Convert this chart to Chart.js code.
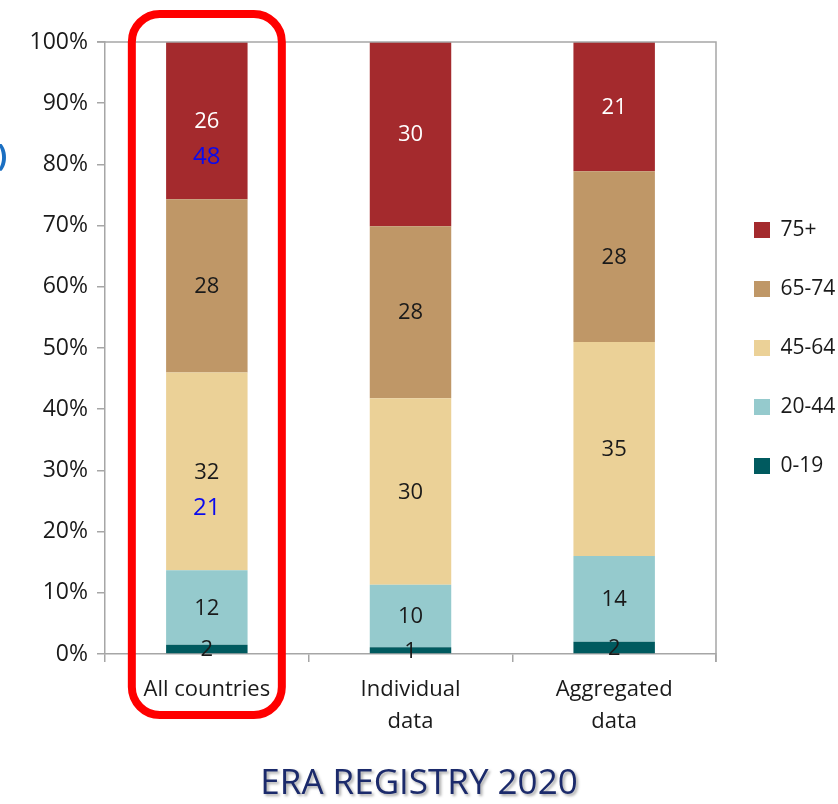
<!DOCTYPE html>
<html>
<head>
<meta charset="utf-8">
<script src="https://cdn.jsdelivr.net/npm/chart.js@4.4.1/dist/chart.umd.min.js"></script>
<style>
  html, body { margin: 0; padding: 0; background: #ffffff; }
  #wrap { position: relative; width: 838px; height: 804px; overflow: hidden; }
  #c { position: absolute; left: 0; top: 0; }
  #title { position: absolute; left: 0; width: 838px; top: 757px; text-align: center;
           font-family: "Open Sans", sans-serif; font-size: 35px; color: #1b2a6b;
           text-shadow: 2px 2px 3px rgba(0,0,0,0.35); line-height: 48px; }
  #paren { position: absolute; left: -3px; top: 134px; font-family: "Open Sans", sans-serif;
           font-size: 30px; font-weight: bold; color: #1b6fc2; z-index: 2; }
</style>
</head>
<body>
<div id="wrap">
  <canvas id="c" width="838" height="804"></canvas>
  <div id="paren">)</div>
  <div id="title">ERA REGISTRY 2020</div>
</div>
<script>
// ---- data ----
const categories = [["All countries"], ["Individual", "data"], ["Aggregated", "data"]];
const seriesNames = ["0-19", "20-44", "45-64", "65-74", "75+"];
const age0_19  = [1.5, 1.1, 2.0];
const age20_44 = [12.2, 10.2, 14.0];
const age45_64 = [32.3, 30.5, 35.0];
const age65_74 = [28.3, 28.1, 27.9];
const age75p   = [25.7, 30.1, 21.1];
const shownLabels = [
  ["2", "1", "2"],
  ["12", "10", "14"],
  ["32", "30", "35"],
  ["28", "28", "28"],
  ["26", "30", "21"]
];
const yTickValues = [0,10,20,30,40,50,60,70,80,90,100];
// extra blue annotations: [seriesIndex, categoryIndex, text]
const blueNotes = [[4, 0, "48"], [2, 0, "21"]];

const colors = ["#005a5f", "#95cacd", "#ebd197", "#bf9767", "#a42a2d"];
const labelColors = ["#1a1a1a", "#1a1a1a", "#1a1a1a", "#1a1a1a", "#ffffff"];
const seriesValues = [age0_19, age20_44, age45_64, age65_74, age75p];

const FONT = '"Open Sans", sans-serif';

const labelsPlugin = {
  id: 'segLabels',
  afterLayout(chart) {
    const l = chart.legend;
    if (l) {
      l.top = chart.chartArea.top;
      l.bottom = chart.chartArea.bottom;
      l.height = l.bottom - l.top;
    }
  },
  afterDatasetsDraw(chart) {
    const ctx = chart.ctx;
    ctx.save();
    ctx.textAlign = 'center';
    ctx.textBaseline = 'middle';
    chart.data.datasets.forEach((ds, di) => {
      const meta = chart.getDatasetMeta(di);
      meta.data.forEach((el, i) => {
        const cy = (el.y + el.base) / 2;
        ctx.font = '22px ' + FONT;
        ctx.fillStyle = labelColors[di];
        ctx.fillText(shownLabels[di][i], el.x, cy + 1);
      });
    });
    blueNotes.forEach(([di, ci, txt]) => {
      const el = chart.getDatasetMeta(di).data[ci];
      const cy = (el.y + el.base) / 2;
      ctx.font = '24px ' + FONT;
      ctx.fillStyle = '#0a0aee';
      ctx.fillText(txt, el.x, cy + 37);
    });
    ctx.restore();
  },
  afterDraw(chart) {
    const ctx = chart.ctx;
    const a = chart.chartArea;
    ctx.save();
    // top and right frame lines
    ctx.strokeStyle = '#a6a6a6';
    ctx.lineWidth = 1.5;
    ctx.beginPath();
    ctx.moveTo(a.left - 8, a.top);
    ctx.lineTo(a.right, a.top);
    ctx.lineTo(a.right, a.bottom + 8);
    ctx.stroke();
    // red highlight around first category
    const xs = chart.scales.x;
    const cx = xs.getPixelForValue(0);
    const x0 = cx - 75, x1 = cx + 75, y0 = a.top - 28, y1 = a.bottom + 61;
    const r = 28;
    ctx.strokeStyle = '#ff0000';
    ctx.lineWidth = 8;
    ctx.beginPath();
    ctx.moveTo(x0 + r, y0);
    ctx.lineTo(x1 - r, y0);
    ctx.arcTo(x1, y0, x1, y0 + r, r);
    ctx.lineTo(x1, y1 - r);
    ctx.arcTo(x1, y1, x1 - r, y1, r);
    ctx.lineTo(x0 + r, y1);
    ctx.arcTo(x0, y1, x0, y1 - r, r);
    ctx.lineTo(x0, y0 + r);
    ctx.arcTo(x0, y0, x0 + r, y0, r);
    ctx.closePath();
    ctx.stroke();
    ctx.restore();
  }
};

new Chart(document.getElementById('c'), {
  type: 'bar',
  data: {
    labels: categories,
    datasets: seriesNames.map((n, i) => ({
      label: n,
      data: seriesValues[i],
      backgroundColor: colors[i],
      borderWidth: 0,
      barPercentage: 0.4,
      categoryPercentage: 1.0
    }))
  },
  options: {
    responsive: false,
    animation: false,
    devicePixelRatio: 1,
    layout: { padding: { top: 42, bottom: 60, left: 0, right: 0 } },
    plugins: {
      tooltip: { enabled: false },
      title: { display: false },
      legend: {
        position: 'right',
        reverse: true,
        maxWidth: 122,
        labels: {
          boxWidth: 16, boxHeight: 16, padding: 38,
          color: '#1a1a1a',
          font: { family: FONT, size: 21 }
        }
      }
    },
    scales: {
      x: {
        stacked: true,
        afterFit: s => { s.height = 90; },
        grid: { display: true, offset: true, drawOnChartArea: false, tickLength: 8, color: '#a6a6a6', lineWidth: 1.5 },
        border: { display: true, color: '#a6a6a6', width: 1.5 },
        ticks: { color: '#1a1a1a', padding: 12, font: { family: FONT, size: 22, lineHeight: 1.45 }, maxRotation: 0 }
      },
      y: {
        stacked: true,
        min: 0, max: 100,
        afterFit: s => { s.width = 105; },
        afterBuildTicks: s => { s.ticks = yTickValues.map(v => ({ value: v })); },
        grid: { display: true, drawOnChartArea: false, tickLength: 8, color: '#a6a6a6', lineWidth: 1.5 },
        border: { display: true, color: '#a6a6a6', width: 1.5 },
        ticks: { color: '#1a1a1a', padding: 9, font: { family: FONT, size: 23 }, callback: v => v + '%' }
      }
    }
  },
  plugins: [labelsPlugin]
});
</script>
</body>
</html>
